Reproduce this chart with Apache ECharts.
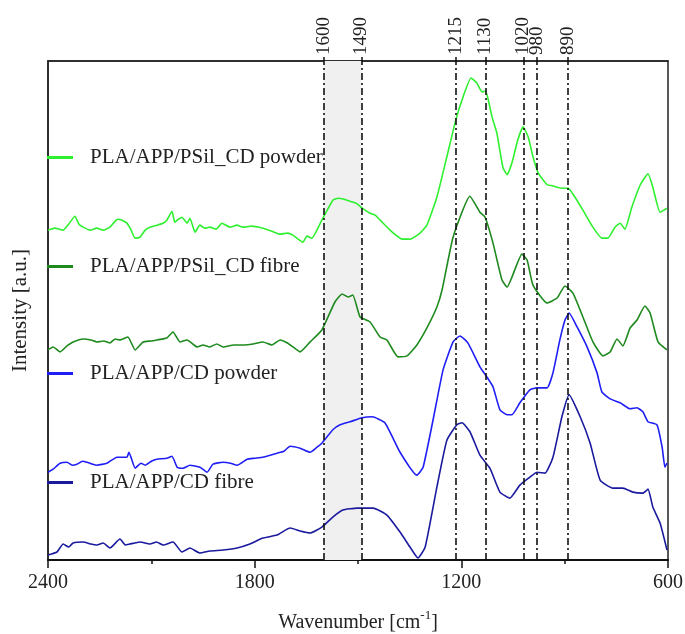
<!DOCTYPE html>
<html>
<head>
<meta charset="utf-8">
<script src="https://cdn.jsdelivr.net/npm/echarts@6/dist/echarts.min.js"></script>
<style>
  html, body { margin: 0; padding: 0; background: #fff; }
  #chart { width: 685px; height: 634px; }
</style>
</head>
<body>
<div id="chart"></div>
<script>
// FTIR spectra, offset for clarity. [wavenumber, intensity a.u.]
const psilPowder = [
  [2400, 66.1], [2380, 66.5], [2356, 66.1], [2340, 67.3], [2322, 68.9], [2310, 67.3], [2298, 66.7],
  [2278, 66.1], [2258, 66.5], [2240, 66.1], [2220, 66.7], [2205, 67.9],
  [2197, 68.3], [2185, 68.1], [2171, 67.5], [2160, 66.3], [2147, 64.5], [2133, 64.7], [2118, 66.1],
  [2104, 66.7], [2084, 67.1], [2066, 67.5], [2055, 68.1],
  [2040, 69.9], [2032, 67.7], [2025, 68.1], [2011, 68.7], [1996, 67.5], [1988, 68.5], [1973, 65.7],
  [1959, 67.1], [1945, 66.5], [1930, 66.7], [1912, 66.3], [1895, 67.5], [1872, 66.7], [1851, 67.1],
  [1834, 66.7], [1810, 66.9], [1776, 66.5],
  [1750, 65.9], [1726, 65.3], [1705, 65.5], [1689, 65.1], [1660, 63.7], [1648, 64.9], [1634, 64.5], [1605, 68.1],
  [1573, 72.1], [1558, 72.5], [1540, 72.3], [1523, 71.9], [1505, 71.5], [1488, 70.5], [1465, 69.5], [1450, 69.1], [1430, 67.7],
  [1407, 66.1], [1390, 65.1], [1372, 64.3], [1349, 64.3], [1320, 65.5], [1300, 67.1], [1271, 72.7],
  [1242, 80.8], [1216, 88.2], [1195, 92.8], [1172, 96.6], [1155, 95.6], [1140, 93.8],
  [1131, 94.0], [1123, 92.6], [1111, 88.8], [1097, 85.6], [1079, 78.6], [1067, 77.2],
  [1053, 79.6], [1036, 84.2], [1021, 86.8], [1006, 84.8], [992, 80.8], [977, 77.6],
  [951, 75.2], [935, 75.0], [922, 74.7], [905, 74.5], [890, 74.5], [870, 72.7], [847, 70.1],
  [818, 66.7], [792, 64.5], [774, 64.5], [754, 66.7], [739, 67.5], [725, 66.3],
  [705, 70.7], [681, 75.1], [658, 77.4], [644, 74.7], [623, 69.7], [603, 70.5]
];
const psilFibre = [
  [2400, 42.1], [2385, 42.7], [2365, 41.7], [2345, 42.9], [2327, 43.7], [2298, 44.3], [2275, 44.1], [2258, 43.7],
  [2238, 43.9], [2220, 43.5], [2205, 44.3],
  [2191, 44.1], [2168, 44.7], [2147, 42.1], [2124, 43.7], [2100, 43.9], [2084, 44.1], [2055, 44.5],
  [2037, 45.7], [2017, 43.7], [1996, 44.1], [1980, 43.3], [1967, 42.7], [1950, 43.1], [1930, 42.7], [1910, 43.3], [1892, 42.7],
  [1860, 43.1], [1834, 43.1], [1805, 43.3], [1776, 43.7], [1750, 43.1], [1726, 44.1], [1705, 43.5], [1689, 42.7], [1668, 41.7], [1639, 43.7],
  [1605, 46.1], [1567, 51.7], [1546, 53.3], [1529, 52.7], [1515, 53.1], [1494, 48.7],
  [1465, 47.7], [1436, 44.7], [1416, 44.1], [1384, 40.7], [1358, 40.9], [1329, 43.1],
  [1300, 46.5], [1271, 50.7], [1256, 54.1], [1224, 64.7], [1175, 72.9], [1146, 69.7],
  [1131, 68.7], [1108, 63.5], [1082, 56.1], [1067, 54.7], [1053, 56.7], [1024, 61.3],
  [1009, 60.1], [992, 55.1], [951, 51.5], [922, 52.5], [899, 54.9], [876, 53.5],
  [847, 48.7], [818, 43.7], [789, 40.9], [768, 41.7], [748, 44.3], [731, 42.9],
  [710, 46.5], [690, 48.1], [667, 50.9], [652, 49.5], [629, 43.7], [603, 42.1]
];
const cdPowder = [
  [2400, 17.6], [2385, 18.2], [2365, 19.4], [2345, 19.6], [2330, 19.0], [2316, 19.2], [2300, 19.8], [2287, 19.6], [2270, 19.2], [2258, 19.0],
  [2229, 19.4], [2200, 20.6], [2171, 20.6], [2165, 21.6], [2147, 18.4], [2130, 19.4], [2118, 19.0],
  [2100, 19.8], [2084, 20.2], [2055, 20.4], [2040, 20.8], [2025, 18.6], [2008, 18.4], [1988, 19.0],
  [1959, 18.6], [1938, 17.6], [1921, 19.2], [1892, 19.6], [1870, 19.4], [1851, 19.0], [1822, 20.2],
  [1800, 20.4], [1776, 20.6], [1755, 21.0], [1735, 21.4], [1715, 21.8], [1697, 22.8], [1668, 22.4], [1639, 21.6], [1619, 22.6],
  [1605, 23.4], [1573, 26.1], [1552, 27.1], [1523, 27.7], [1488, 28.5], [1459, 28.7],
  [1422, 27.5], [1378, 21.6], [1329, 17.0], [1311, 18.6], [1282, 28.1], [1253, 38.1],
  [1224, 43.7], [1204, 44.9], [1181, 43.5], [1146, 38.7], [1126, 36.7], [1108, 34.7],
  [1088, 30.1], [1067, 29.1], [1053, 29.1], [1030, 31.5], [1001, 34.1], [980, 34.5],
  [951, 34.5], [934, 37.5], [914, 44.1], [899, 48.1], [887, 49.5], [864, 46.7],
  [835, 42.7], [806, 37.5], [792, 33.7], [768, 32.3], [739, 31.5], [710, 30.3],
  [690, 30.5], [673, 29.7], [658, 27.7], [632, 27.1], [617, 22.6], [609, 18.6], [603, 19.4]
];
const cdFibre = [
  [2400, 1.0], [2374, 1.6], [2356, 3.2], [2340, 2.6], [2327, 3.4], [2298, 3.6], [2275, 3.2], [2258, 3.0],
  [2240, 3.4], [2220, 2.4], [2191, 4.2], [2175, 3.0], [2162, 3.2], [2133, 3.6], [2104, 3.2], [2085, 3.6], [2066, 3.0],
  [2037, 3.6], [2011, 1.6], [1988, 2.4], [1959, 1.4], [1930, 1.8], [1892, 2.0],
  [1851, 2.4], [1814, 3.2], [1776, 4.4], [1735, 5.0], [1697, 6.4], [1668, 5.8],
  [1639, 5.4], [1605, 6.6], [1573, 8.6], [1544, 10.0], [1503, 10.4], [1456, 10.4],
  [1416, 9.0], [1378, 5.6], [1349, 2.6], [1326, 0.4], [1305, 2.6], [1271, 14.6],
  [1242, 24.0], [1213, 27.1], [1198, 27.5], [1175, 25.7], [1146, 21.0], [1117, 18.4],
  [1088, 13.6], [1059, 12.4], [1030, 15.0], [1001, 16.6], [980, 17.6], [957, 17.4],
  [934, 20.6], [908, 28.7], [887, 33.1], [855, 28.7], [826, 23.4], [797, 16.0],
  [760, 14.4], [731, 14.4], [702, 13.6], [673, 13.4], [658, 14.2], [644, 10.6],
  [623, 7.4], [603, 2.0]
];

const seriesNames = ['PLA/APP/PSil_CD powder', 'PLA/APP/PSil_CD fibre', 'PLA/APP/CD powder', 'PLA/APP/CD fibre'];
const seriesColors = ['#2ef02e', '#1e8a1e', '#1f1ff5', '#1a1a9e'];
const bandLines = [1600, 1490, 1215, 1130, 1020, 980, 890];
const shadedBand = [1600, 1490];
const bottomTicks = [600, 1200, 1800, 2400];

const serif = 'Liberation Serif';
const chart = echarts.init(document.getElementById('chart'));

const lineSeries = [psilPowder, psilFibre, cdPowder, cdFibre].map((d, i) => ({
  name: seriesNames[i],
  type: 'line',
  data: d,
  symbol: 'none',
  smooth: 0.15,
  z: 3,
  color: seriesColors[i],
  lineStyle: { width: 1.6, color: seriesColors[i] }
}));

// one legend per label, placed next to its curve
const legendTops = [147, 256, 363, 472];
const legends = seriesNames.map((n, i) => ({
  data: [n],
  left: 47,
  top: legendTops[i],
  padding: 0,
  icon: 'rect',
  itemWidth: 26,
  itemHeight: 3,
  selectedMode: false,
  textStyle: { fontFamily: serif, fontSize: 21, color: '#222', padding: [0, 0, 0, 12] }
}));

const plainNum = v => String(v);

const option = {
  animation: false,
  backgroundColor: '#fff',
  legend: legends,
  grid: {
    left: 48, right: 17, top: 61, bottom: 74,
    outerBoundsMode: 'none', containLabel: false,
    show: true, borderColor: '#222', borderWidth: 1.5, backgroundColor: 'transparent'
  },
  xAxis: [
    {
      type: 'value', min: 600, max: 2400, interval: 600, inverse: true,
      position: 'bottom',
      name: '{a|Wavenumber [cm}{s|-1}{a|]}',
      nameLocation: 'middle', nameGap: 49,
      nameTextStyle: {
        rich: {
          a: { fontFamily: serif, fontSize: 20, color: '#222', lineHeight: 24, verticalAlign: 'bottom' },
          s: { fontFamily: serif, fontSize: 13, color: '#222', lineHeight: 24, verticalAlign: 'top' }
        }
      },
      axisLine: { lineStyle: { color: '#111', width: 2 } },
      axisTick: { show: true, length: 8, lineStyle: { color: '#111', width: 1.5 } },
      minorTick: { show: true, splitNumber: 2, length: 4, lineStyle: { color: '#111', width: 1.5 } },
      axisLabel: {
        fontFamily: serif, fontSize: 20, color: '#222', margin: 13,
        customValues: bottomTicks, formatter: plainNum
      },
      splitLine: { show: false }
    },
    {
      type: 'value', min: 600, max: 2400, inverse: true,
      position: 'top',
      axisLine: { show: true, lineStyle: { color: '#222', width: 1.5 } },
      axisTick: { show: true, length: 4, customValues: bandLines, lineStyle: { color: '#111', width: 1.5 } },
      axisLabel: {
        show: true, rotate: -90, margin: 6, customValues: bandLines, formatter: plainNum,
        fontFamily: serif, fontSize: 19, color: '#222'
      },
      splitLine: { show: false }
    }
  ],
  yAxis: {
    type: 'value', min: 0, max: 100,
    name: 'Intensity [a.u.]', nameLocation: 'middle', nameGap: 17,
    nameTextStyle: { fontFamily: serif, fontSize: 21, color: '#222' },
    axisLine: { show: true, lineStyle: { color: '#222', width: 1.5 } },
    axisTick: { show: false },
    axisLabel: { show: false },
    splitLine: { show: false }
  },
  series: [
    {
      name: '_band', type: 'line', data: [], z: 1, silent: true,
      markArea: {
        silent: true,
        itemStyle: { color: '#f0f0f0' },
        data: [[{ xAxis: shadedBand[0] }, { xAxis: shadedBand[1] }]]
      }
    },
    ...lineSeries,
    {
      name: '_marks', type: 'line', data: [], z: 5, silent: true,
      markLine: {
        silent: true, symbol: 'none', label: { show: false },
        lineStyle: { color: '#111', width: 1.6, type: [7, 3, 2, 3] },
        data: bandLines.map(v => ({ xAxis: v }))
      }
    }
  ]
};

chart.setOption(option);
</script>
</body>
</html>
